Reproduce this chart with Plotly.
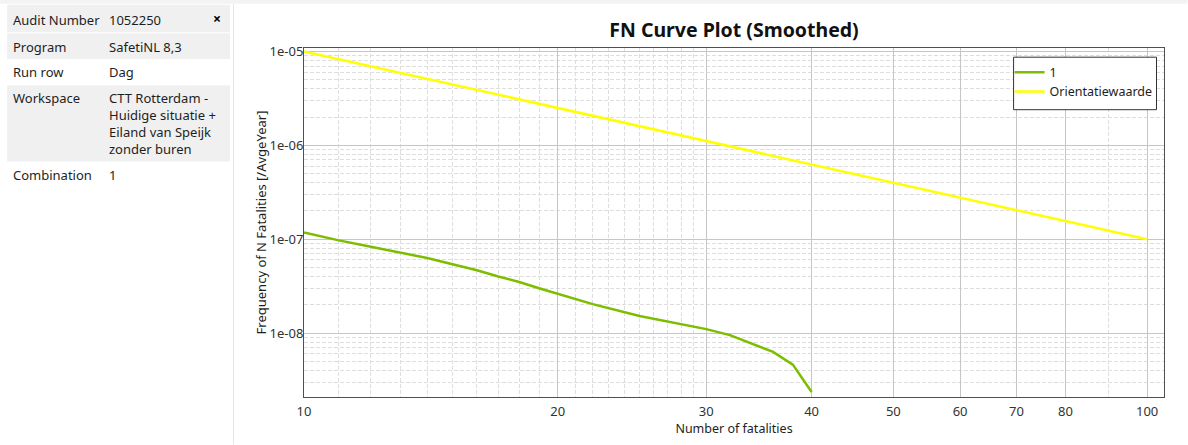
import plotly.graph_objects as go

# --- data -------------------------------------------------------------
n_fatalities = [10, 11, 12, 13, 14, 15, 16, 17, 18, 19, 20, 22, 25, 28, 30, 32, 34, 36, 38, 40]
freq_combination = [1.18e-7, 9.7e-8, 8.3e-8, 7.2e-8, 6.3e-8, 5.4e-8, 4.7e-8, 4.0e-8, 3.5e-8,
                    3.0e-8, 2.6e-8, 2.03e-8, 1.52e-8, 1.25e-8, 1.10e-8, 9.5e-9, 7.7e-9,
                    6.3e-9, 4.6e-9, 2.35e-9]

n_orientation = [10, 100]
freq_orientation = [1e-5, 1e-7]

x_tick_values = [10, 20, 30, 40, 50, 60, 70, 80, 100]
x_minor_values = [11, 12, 13, 14, 15, 16, 17, 18, 19, 21, 22, 23, 24, 25, 26, 27, 28, 29, 90]
y_tick_values = [1e-8, 1e-7, 1e-6, 1e-5]
y_tick_labels = ["1e-08", "1e-07", "1e-06", "1e-05"]
y_minor_values = [k * 10.0 ** e for e in range(-9, -5) for k in range(2, 10)]

info_labels = ["Audit Number", "Program", "Run row", "Workspace", "Combination"]
info_values = [["1052250"], ["SafetiNL 8,3"], ["Dag"],
               ["CTT Rotterdam -", "Huidige situatie +", "Eiland van Speijk", "zonder buren"],
               ["1"]]

# --- page geometry (pixels) ------------------------------------------
W, H = 1188, 445
PL, PR, PT, PB = 304, 1164.5, 48.3, 397.3
PW, PH = PR - PL, PB - PT

def px(x):
    return (x - PL) / PW

def py(y):
    return 1 - (y - PT) / PH

FONT = "Noto Sans"
TEXT = "#1e1e1e"

fig = go.Figure()
fig.add_trace(go.Scatter(x=n_fatalities, y=freq_combination, mode="lines", name="1",
                         line=dict(color="#7dbd00", width=2.5)))
fig.add_trace(go.Scatter(x=n_orientation, y=freq_orientation, mode="lines",
                         name="Orientatiewaarde", line=dict(color="#ffff00", width=2.5)))

shapes = []
annotations = []

# side panel: top strip, divider, row backgrounds
shapes.append(dict(type="rect", xref="paper", yref="paper", x0=px(0), x1=px(W),
                   y0=py(0), y1=py(4), fillcolor="#f3f3f3", line_width=0, layer="below"))
shapes.append(dict(type="line", xref="paper", yref="paper", x0=px(233.5), x1=px(233.5),
                   y0=py(4), y1=py(H), line=dict(color="#e6e6e6", width=1)))
row_bounds = [(5, 32.5), (33.5, 59.5), (59.5, 85.5), (85.5, 162), (162, 189)]
row_fill = ["#f0f0f0", "#f0f0f0", "#ffffff", "#f0f0f0", "#ffffff"]
row_text_y = [20, 47, 72.5, 98.3, 175]
for (y0, y1), fill in zip(row_bounds, row_fill):
    shapes.append(dict(type="rect", xref="paper", yref="paper", x0=px(7), x1=px(230),
                       y0=py(y0), y1=py(y1), fillcolor=fill, line_width=0, layer="below"))

for label, lines, yc in zip(info_labels, info_values, row_text_y):
    annotations.append(dict(text=label, xref="paper", yref="paper", x=px(11), y=py(yc),
                            xanchor="left", yanchor="middle", showarrow=False,
                            font=dict(family=FONT, size=13, color=TEXT)))
    for i, line in enumerate(lines):
        annotations.append(dict(text=line, xref="paper", yref="paper", x=px(107),
                                y=py(yc + i * 17.0), xanchor="left", yanchor="middle",
                                showarrow=False, font=dict(family=FONT, size=13, color=TEXT)))
annotations.append(dict(text="<b>×</b>", xref="paper", yref="paper", x=px(217), y=py(19),
                        xanchor="center", yanchor="middle", showarrow=False,
                        font=dict(family=FONT, size=14, color="#000000")))

# legend frame
shapes.append(dict(type="rect", xref="paper", yref="paper", x0=px(1014), x1=px(1157),
                   y0=py(57.5), y1=py(110), fillcolor="white",
                   line=dict(color="#333333", width=1), layer="above"))

axis_common = dict(
    type="log",
    showline=True, linecolor="#505050", linewidth=1, mirror=True,
    showgrid=True, gridcolor="#c6c6c6", gridwidth=1,
    ticks="", zeroline=False,
    tickfont=dict(family=FONT, size=13, color="#333333"),
)

fig.update_layout(
    width=W, height=H,
    margin=dict(l=PL, r=W - PR, t=PT, b=H - PB),
    paper_bgcolor="white", plot_bgcolor="white",
    title=dict(text="<b>FN Curve Plot (Smoothed)</b>", x=734 / W, y=1 - 30 / H,
               xref="container", yref="container", xanchor="center", yanchor="middle",
               font=dict(family=FONT, size=19.5, color="#111111")),
    xaxis=dict(axis_common, range=[1, 2.02], tickmode="array", tickvals=x_tick_values,
               ticktext=[str(v) for v in x_tick_values], ticklabelstandoff=2,
               minor=dict(tickmode="array", tickvals=x_minor_values, showgrid=True,
                          gridcolor="#dedede", griddash="4px,2px", ticks=""),
               title=dict(text="Number of fatalities", standoff=5,
                          font=dict(family=FONT, size=12.5, color=TEXT))),
    yaxis=dict(axis_common, range=[-8.682, -4.963], tickmode="array",
               tickvals=y_tick_values, ticktext=y_tick_labels, ticklabelstandoff=-3,
               minor=dict(tickmode="array", tickvals=y_minor_values, showgrid=True,
                          gridcolor="#dedede", griddash="4px,2px", ticks=""),
               title=dict(text="Frequency of N Fatalities [/AvgeYear]", standoff=0,
                          font=dict(family=FONT, size=13, color=TEXT))),
    legend=dict(x=px(1010), y=py(58), xanchor="left", yanchor="top",
                bgcolor="rgba(0,0,0,0)", borderwidth=0,
                font=dict(family=FONT, size=12.5, color=TEXT), itemwidth=30,
                tracegroupgap=0),
    shapes=shapes,
    annotations=annotations,
)

fig.write_html("out.html")
